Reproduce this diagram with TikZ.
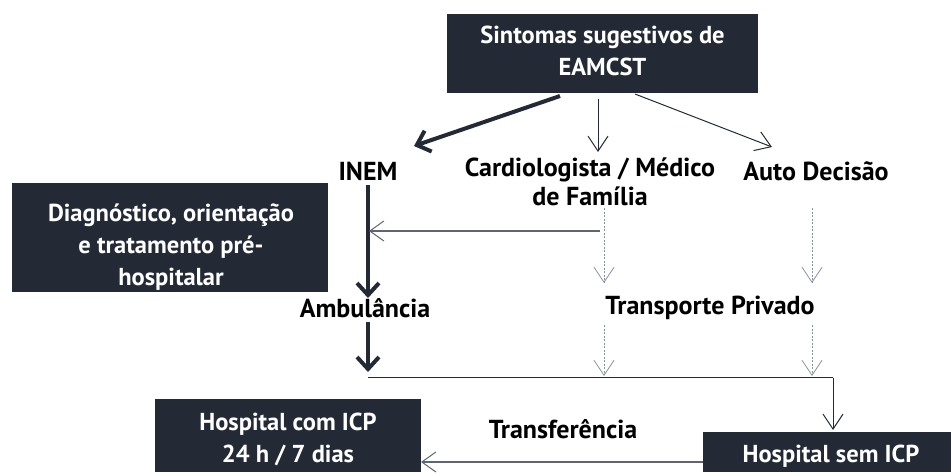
\documentclass[tikz,border=0pt]{standalone}
\usepackage{fontspec}
\setmainfont{PT Sans}
\newfontfamily\boxfont{PT Sans}
\newfontfamily\labfont{PT Sans}
\usetikzlibrary{arrows.meta}
\definecolor{navy}{HTML}{232A36}
\definecolor{lgray}{HTML}{5E6570}
\definecolor{dgray}{HTML}{8C929B}
\begin{document}
\begin{tikzpicture}[x=1pt,y=-1pt,
  darkbox/.style={fill=navy,inner sep=0pt,anchor=center},
  boxtext/.style={text=white,font=\boxfont\bfseries\fontsize{24.5}{32}\selectfont,align=center,inner sep=0pt,anchor=base},
  lab/.style={font=\labfont\bfseries\fontsize{26}{28.5}\selectfont,align=center,inner sep=0pt,anchor=base},
  thickarr/.style={draw=navy,line width=4pt,-{Straight Barb[length=12pt,width=22pt]}},
  thinarr/.style={draw=navy,line width=1pt,-{Straight Barb[length=15pt,width=20pt]}},
  grayarr/.style={draw=lgray,line width=1.6pt,-{Straight Barb[length=14pt,width=20pt,line width=1pt]}},
  dotarr/.style={draw=dgray,line width=0.8pt,dash pattern=on 2pt off 1.5pt,-{Straight Barb[length=15pt,width=20pt,line width=0.8pt]}},
  plainline/.style={draw=navy,line width=1.3pt}]
\useasboundingbox (0,0) rectangle (951,472);
% boxes
\node[darkbox,minimum width=311pt,minimum height=79pt] (top) at (602.5,53.5) {};
\node[boxtext] (toptext) at (602.5,75) {Sintomas sugestivos de\\EAMCST};
\node[darkbox,minimum width=316pt,minimum height=109pt] (diag) at (170,237.5) {};
\node[boxtext] (diagtext) at (171,285) {Diagnóstico, orientação\\e tratamento pré-\\hospitalar};
\node[darkbox,minimum width=266pt,minimum height=73pt] (hcom) at (288,435.5) {};
\node[boxtext] (hcomtext) at (288,462) {Hospital com ICP\\24 h / 7 dias};
\node[darkbox,minimum width=248pt,minimum height=40pt] (hsem) at (827,452) {};
\node[boxtext] (hsemtext) at (831,462) {Hospital sem ICP};
% labels
\node[lab] (inem) at (368,180) {INEM};
\node[lab] (card) at (590,205) {Cardiologista / Médico\\de Família};
\node[lab] (auto) at (816,180) {Auto Decisão};
\node[lab] (amb) at (365,317) {Ambulância};
\node[lab] (tp) at (710,314) {Transporte Privado};
\node[lab] (transf) at (563,438) {Transferência};
% coordinates
\coordinate (t1) at (560,96);
\coordinate (i1) at (414,146);
\coordinate (t2) at (598,99);
\coordinate (c2) at (598,152);
\coordinate (t3) at (635,94);
\coordinate (a3) at (772,147);
\coordinate (in1) at (368,185);
\coordinate (in2) at (368,298);
\coordinate (am1) at (368,322);
\coordinate (am2) at (368,372);
\coordinate (cf1) at (600,231);
\coordinate (cf2) at (369,231);
\coordinate (d1a) at (604,208);
\coordinate (d1b) at (604,283);
\coordinate (d2a) at (812,208);
\coordinate (d2b) at (812,283);
\coordinate (d3a) at (604,325);
\coordinate (d3b) at (604,376);
\coordinate (d4a) at (812,325);
\coordinate (d4b) at (812,376);
\coordinate (h1) at (368,377.5);
\coordinate (h2) at (833,377.5);
\coordinate (h3) at (833,430);
\coordinate (b1) at (703,462);
\coordinate (b2) at (421,462);
% connectors
\draw[thickarr] (t1) -- (i1);
\draw[thinarr] (t2) -- (c2);
\draw[thinarr] (t3) -- (a3);
\draw[thickarr] (in1) -- (in2);
\draw[thickarr] (am1) -- (am2);
\draw[grayarr] (cf1) -- (cf2);
\draw[dotarr] (d1a) -- (d1b);
\draw[dotarr] (d2a) -- (d2b);
\draw[dotarr] (d3a) -- (d3b);
\draw[dotarr] (d4a) -- (d4b);
\draw[plainline] (h1) -- (h2);
\draw[thinarr] (h2) -- (h3);
\draw[grayarr] (b1) -- (b2);
\end{tikzpicture}
\end{document}
